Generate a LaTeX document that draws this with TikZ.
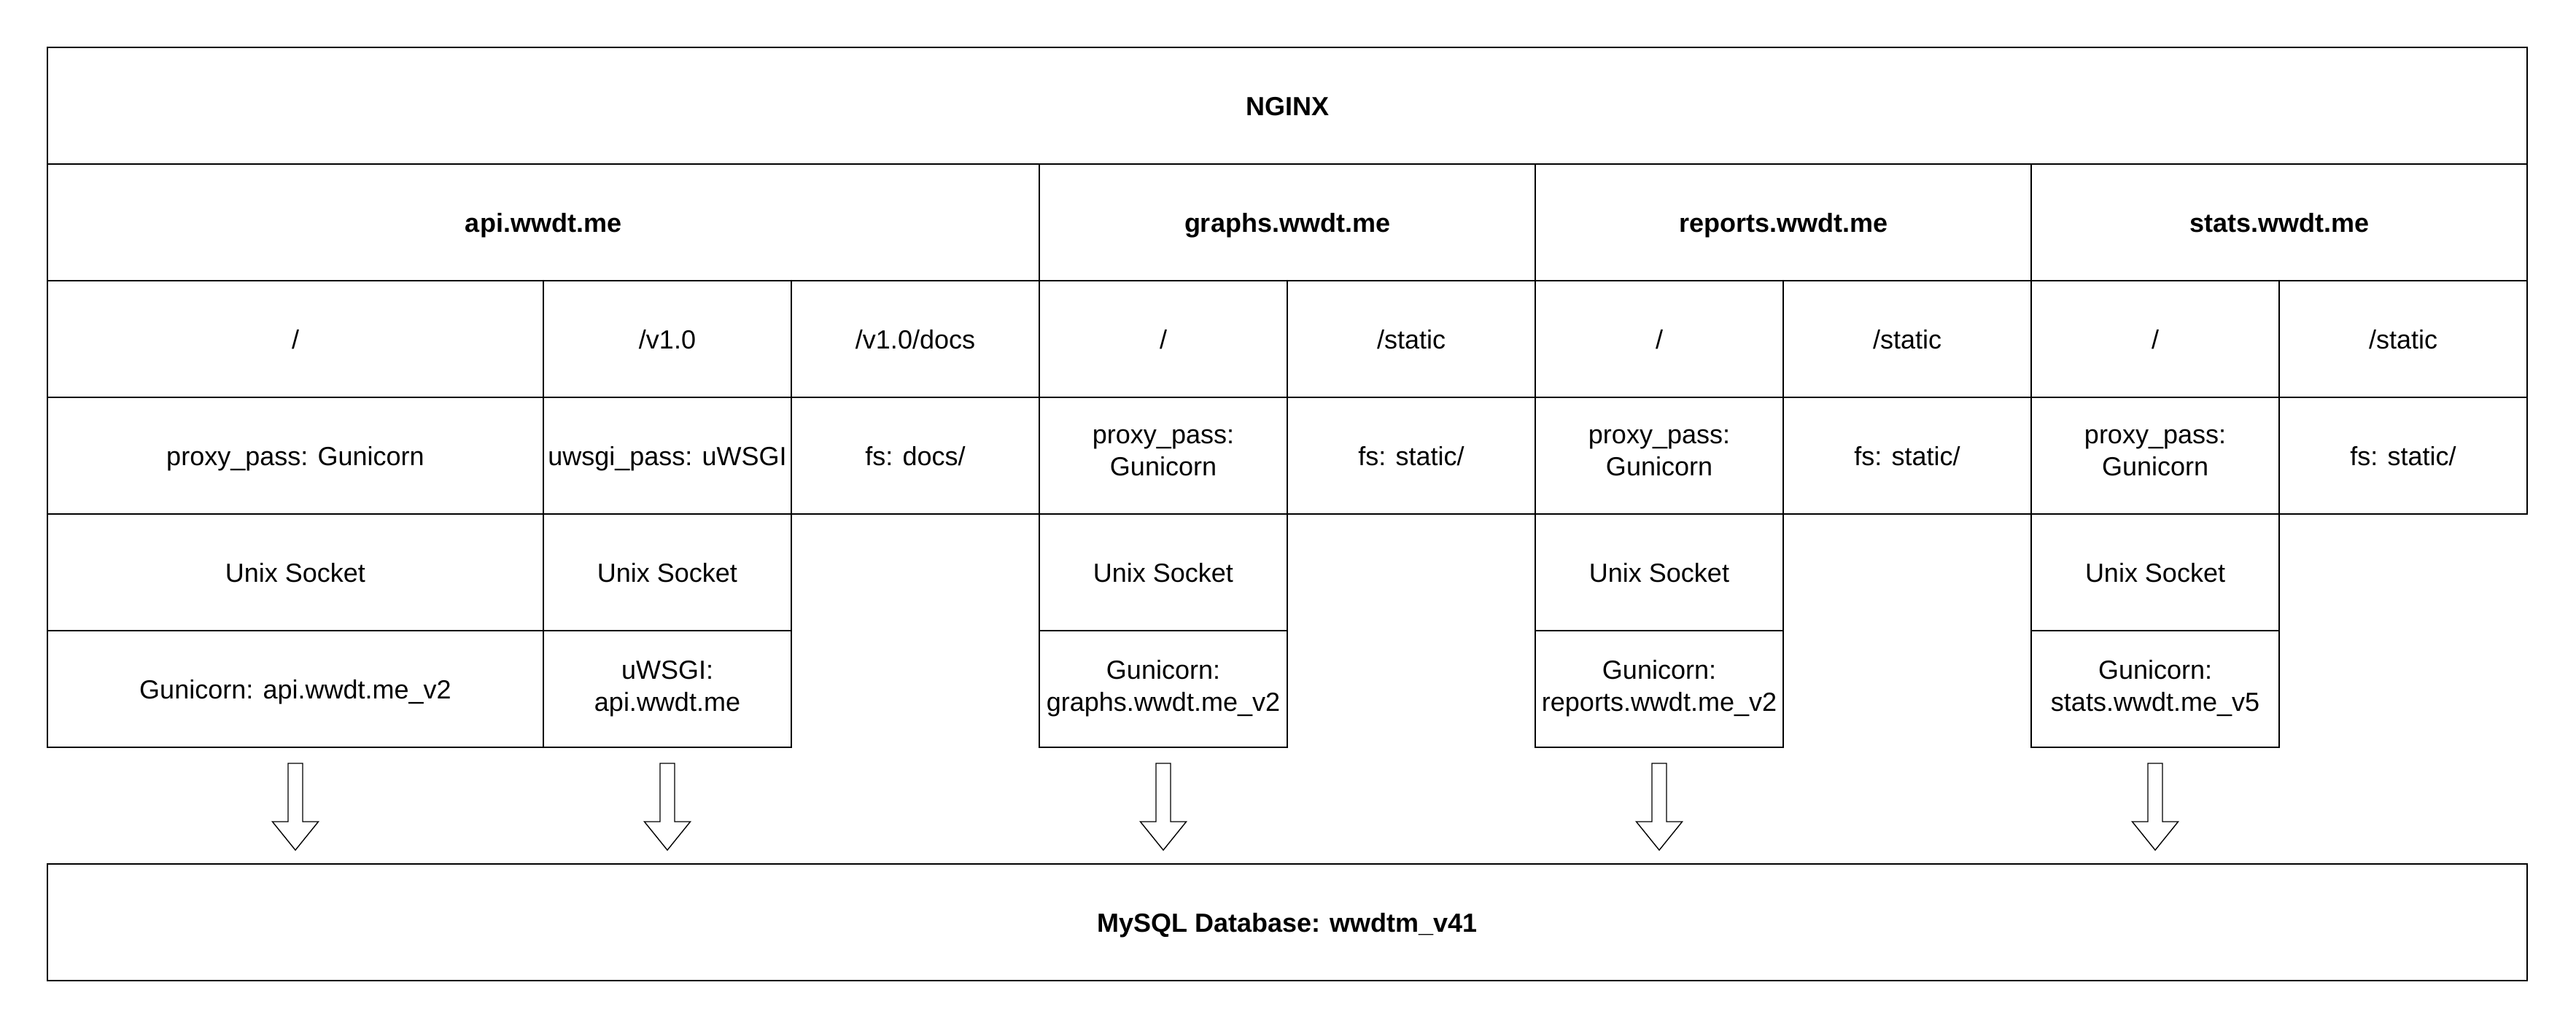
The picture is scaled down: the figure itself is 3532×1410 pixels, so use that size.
\documentclass[tikz,border=0pt]{standalone}
\usepackage{fontspec}
\setmainfont{Liberation Sans}
\usetikzlibrary{calc}
\newcommand{\hollowarrow}[2]{%
  \draw[hollow] ($(#1.south)+(-10,21)$) -- ($(#1.south)+(-10,101)$) -- ($(#1.south)+(-31.5,101)$)
    -- ($(#1.south)+(0,140)$) coordinate (#2) -- ($(#1.south)+(31.5,101)$) -- ($(#1.south)+(10,101)$)
    -- ($(#1.south)+(10,21)$) -- cycle;}
\newcommand{\topstrut}{\rule{0pt}{8.8pt}}
\newcommand{\botstrut}{\rule[-2.2pt]{0pt}{2.2pt}}
\begin{document}
\begin{tikzpicture}[x=0.25pt,y=-0.25pt,
  cell/.style={draw=black,line width=0.5pt,rectangle,inner sep=0pt,align=center,
    font=\fontsize{9}{11}\selectfont,minimum height=40pt,
    execute at begin node=\topstrut,execute at end node=\botstrut},
  hdr/.style={cell,font=\fontsize{9}{11}\selectfont\bfseries},
  w1/.style={minimum width=85pt},
  w2/.style={minimum width=170pt},
  w4/.style={minimum width=340pt},
  wall/.style={minimum width=850pt},
  hollow/.style={draw=black,line width=0.35pt,fill=white,line join=miter}]
\useasboundingbox (0,0) rectangle (3532,1410);
% NGINX
\node[hdr,wall] (nginx) at (1765,145) {NGINX};
% domains
\node[hdr,w4] (api) at (745,305) {api.wwdt.me};
\node[hdr,w2] (graphs) at (1765,305) {graphs.wwdt.me};
\node[hdr,w2] (reports) at (2445,305) {reports.wwdt.me};
\node[hdr,w2] (stats) at (3125,305) {stats.wwdt.me};
% paths
\node[cell,w2] (p1) at (405,465) {/};
\node[cell,w1] (p2) at (915,465) {/v1.0};
\node[cell,w1] (p3) at (1255,465) {/v1.0/docs};
\node[cell,w1] (p4) at (1595,465) {/};
\node[cell,w1] (p5) at (1935,465) {/static};
\node[cell,w1] (p6) at (2275,465) {/};
\node[cell,w1] (p7) at (2615,465) {/static};
\node[cell,w1] (p8) at (2955,465) {/};
\node[cell,w1] (p9) at (3295,465) {/static};
% pass
\node[cell,w2] (q1) at (405,625) {proxy\_pass: Gunicorn};
\node[cell,w1] (q2) at (915,625) {uwsgi\_pass: uWSGI};
\node[cell,w1] (q3) at (1255,625) {fs: docs/};
\node[cell,w1] (q4) at (1595,625) {proxy\_pass:\\Gunicorn};
\node[cell,w1] (q5) at (1935,625) {fs: static/};
\node[cell,w1] (q6) at (2275,625) {proxy\_pass:\\Gunicorn};
\node[cell,w1] (q7) at (2615,625) {fs: static/};
\node[cell,w1] (q8) at (2955,625) {proxy\_pass:\\Gunicorn};
\node[cell,w1] (q9) at (3295,625) {fs: static/};
% sockets
\node[cell,w2] (s1) at (405,785) {Unix Socket};
\node[cell,w1] (s2) at (915,785) {Unix Socket};
\node[cell,w1] (s4) at (1595,785) {Unix Socket};
\node[cell,w1] (s6) at (2275,785) {Unix Socket};
\node[cell,w1] (s8) at (2955,785) {Unix Socket};
% app servers
\node[cell,w2] (g1) at (405,945) {Gunicorn: api.wwdt.me\_v2};
\node[cell,w1] (g2) at (915,945) {uWSGI:\\api.wwdt.me};
\node[cell,w1] (g4) at (1595,945) {Gunicorn:\\graphs.wwdt.me\_v2};
\node[cell,w1] (g6) at (2275,945) {Gunicorn:\\reports.wwdt.me\_v2};
\node[cell,w1] (g8) at (2955,945) {Gunicorn:\\stats.wwdt.me\_v5};
% database
\node[hdr,wall] (db) at (1765,1265) {MySQL Database: wwdtm\_v41};
% arrows
\hollowarrow{g1}{t1}
\hollowarrow{g2}{t2}
\hollowarrow{g4}{t4}
\hollowarrow{g6}{t6}
\hollowarrow{g8}{t8}
\end{tikzpicture}
\end{document}
